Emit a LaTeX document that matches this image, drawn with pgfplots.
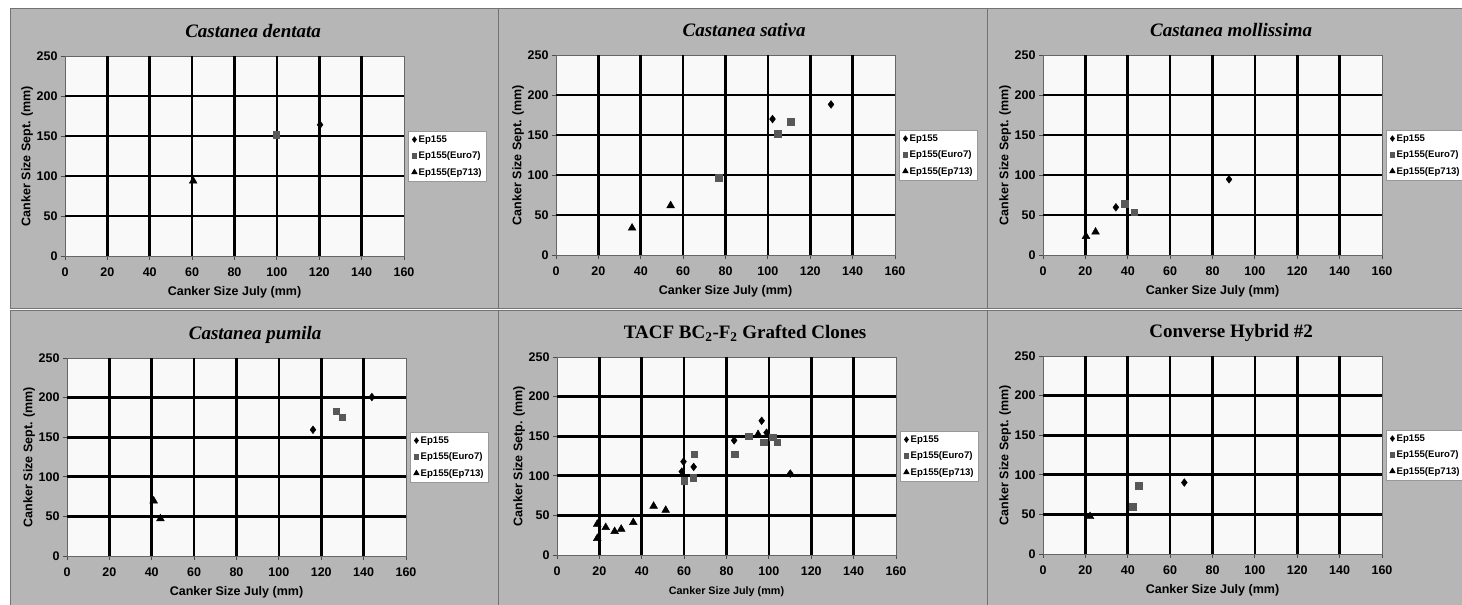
\documentclass[border=0pt]{standalone}
\usepackage{fontspec}
\setmainfont{Liberation Sans}
\newfontfamily\titlefont{Liberation Serif}
\usepackage{pgfplots}
\pgfplotsset{compat=1.18}
\definecolor{panelgray}{RGB}{182,182,182}
\definecolor{sqgray}{RGB}{88,88,88}
\definecolor{plotbg}{RGB}{249,249,249}
\pgfplotsset{
 panel/.style={
  scale only axis, width=339pt, height=200pt,
  xmin=0,xmax=160,ymin=0,ymax=250,
  xtick={0,20,...,160}, ytick={0,50,...,250},
  xtick pos=left, ytick pos=left,
  extra x ticks={20,40,...,140}, extra x tick labels={},
  extra y ticks={50,100,...,200}, extra y tick labels={},
  extra tick style={grid=major, major grid style={black,line width=2.7pt}, major tick length=0pt},
  axis background/.style={fill=plotbg},
  axis line style={draw=black!60, line width=0.8pt},
  tick align=outside, major tick length=4pt, tick style={black!70, line width=0.8pt},
  /pgf/number format/assume math mode=true,
  tick label style={font=\bfseries\fontsize{12.5}{14}\selectfont},
  xticklabel style={yshift=-4pt},
  label style={font=\bfseries\fontsize{12.5}{14}\selectfont},
  x label style={at={(axis description cs:0.5,-0.2)}, anchor=base},
  y label style={at={(axis description cs:-0.112,0.5)}, anchor=center},
  xlabel={Canker Size July (mm)},
  ylabel={Canker Size Sept. (mm)},
  title style={at={(axis description cs:0.555,1)}, anchor=base, yshift=12pt, font=\titlefont\bfseries\itshape\fontsize{19}{22}\selectfont},
  legend style={at={(1.013,0.5)}, anchor=west, draw=black!40, fill=white, line width=0.6pt,
    font=\bfseries\fontsize{9.6}{11}\selectfont, row sep=5pt, inner sep=3pt,
    nodes={inner sep=1.5pt}},
  legend cell align=left,
  legend image code/.code={\draw[#1, mark options={scale=0.7}] plot coordinates {(0.12cm,0cm)};},
 },
 s1/.style={only marks, mark=diamond*, mark size=3.9pt, black},
 s2/.style={only marks, mark=square*, mark size=3.3pt, sqgray},
 s3/.style={only marks, mark=triangle*, mark size=4.5pt, black},
}
\begin{document}
\begin{tikzpicture}[x=1pt,y=1pt]
\useasboundingbox (0,0) rectangle (1462,605);
\fill[white] (0,0) rectangle (1462,605);
% panels
\filldraw[fill=panelgray, draw=black!55, line width=0.8pt] (10,297) rectangle (498,597);
\filldraw[fill=panelgray, draw=black!55, line width=0.8pt] (498,297) rectangle (987,597);
\filldraw[fill=panelgray, draw=black!55, line width=0.8pt] (987,297) rectangle (1463,597);
\filldraw[fill=panelgray, draw=black!55, line width=0.8pt] (10,-1) rectangle (498,295);
\filldraw[fill=panelgray, draw=black!55, line width=0.8pt] (498,-1) rectangle (987,295);
\filldraw[fill=panelgray, draw=black!55, line width=0.8pt] (987,-1) rectangle (1463,295);

% P1
\begin{axis}[panel, at={(65pt,349pt)}, anchor=south west, title={Castanea dentata}]
\addplot[s1] coordinates {(120.4,164.0)};
\addplot[s2] coordinates {(99.6,151.7)};
\addplot[s3] coordinates {(60.5,93.8)};
\legend{Ep155,Ep155(Euro7),Ep155(Ep713)}
\end{axis}

% P2
\begin{axis}[panel, at={(556pt,350pt)}, anchor=south west, title={Castanea sativa}]
\addplot[s1] coordinates {(102.2,169.9) (129.8,188.2)};
\addplot[s2] coordinates {(76.9,96.8) (104.5,151.9) (110.8,166.9)};
\addplot[s3] coordinates {(35.9,33.8) (54.1,61.8)};
\legend{Ep155,Ep155(Euro7),Ep155(Ep713)}
\end{axis}

% P3
\begin{axis}[panel, at={(1043pt,350pt)}, anchor=south west, title={Castanea mollissima}]
\addplot[s1] coordinates {(34.4,59.6) (87.8,94.6)};
\addplot[s2] coordinates {(38.5,63.8) (43.0,53.3)};
\addplot[s3] coordinates {(20.3,23.3) (24.8,28.8)};
\legend{Ep155,Ep155(Euro7),Ep155(Ep713)}
\end{axis}

% P4
\begin{axis}[panel, height=198pt, at={(67pt,49pt)}, anchor=south west, title={Castanea pumila}]
\addplot[s1] coordinates {(116.1,159.4) (143.9,200.7)};
\addplot[s2] coordinates {(127.0,183.0) (129.8,175.4)};
\addplot[s3] coordinates {(40.9,69.6) (44.1,47.2)};
\legend{Ep155,Ep155(Euro7),Ep155(Ep713)}
\end{axis}

% P5
\begin{axis}[panel, height=198pt, at={(557pt,50pt)}, anchor=south west,
  title style={font=\titlefont\bfseries\fontsize{19}{22}\selectfont},
  title={TACF BC\textsubscript{2}-F\textsubscript{2} Grafted Clones},
  ylabel={Canker Size Setp. (mm)},
  x label style={font=\bfseries\fontsize{10.8}{12}\selectfont}]
\addplot[s1] coordinates {(59.7,117.9) (58.9,105.3) (64.5,111.2) (83.6,144.7) (96.6,169.5) (98.9,154.4) (110.1,102.8)};
\addplot[s2] coordinates {(60.0,94.0) (64.3,97.3) (64.8,127.5) (83.8,127.5) (90.5,150.2) (97.6,142.2) (101.9,148.9) (103.9,142.6)};
\addplot[s3] coordinates {(19.0,39.0) (19.0,21.0) (23.0,34.8) (27.2,29.8) (30.3,32.7) (36.0,41.1) (45.6,61.7) (51.3,56.6) (94.9,152.3)};
\legend{Ep155,Ep155(Euro7),Ep155(Ep713)}
\end{axis}

% P6
\begin{axis}[panel, height=198pt, at={(1043pt,51pt)}, anchor=south west,
  title style={font=\titlefont\bfseries\fontsize{19}{22}\selectfont},
  title={Converse Hybrid \#2}]
\addplot[s1] coordinates {(66.7,90.2)};
\addplot[s2] coordinates {(45.1,86.4) (42.3,60.0)};
\addplot[s3] coordinates {(22.2,47.4)};
\legend{Ep155,Ep155(Euro7),Ep155(Ep713)}
\end{axis}
\end{tikzpicture}
\end{document}
